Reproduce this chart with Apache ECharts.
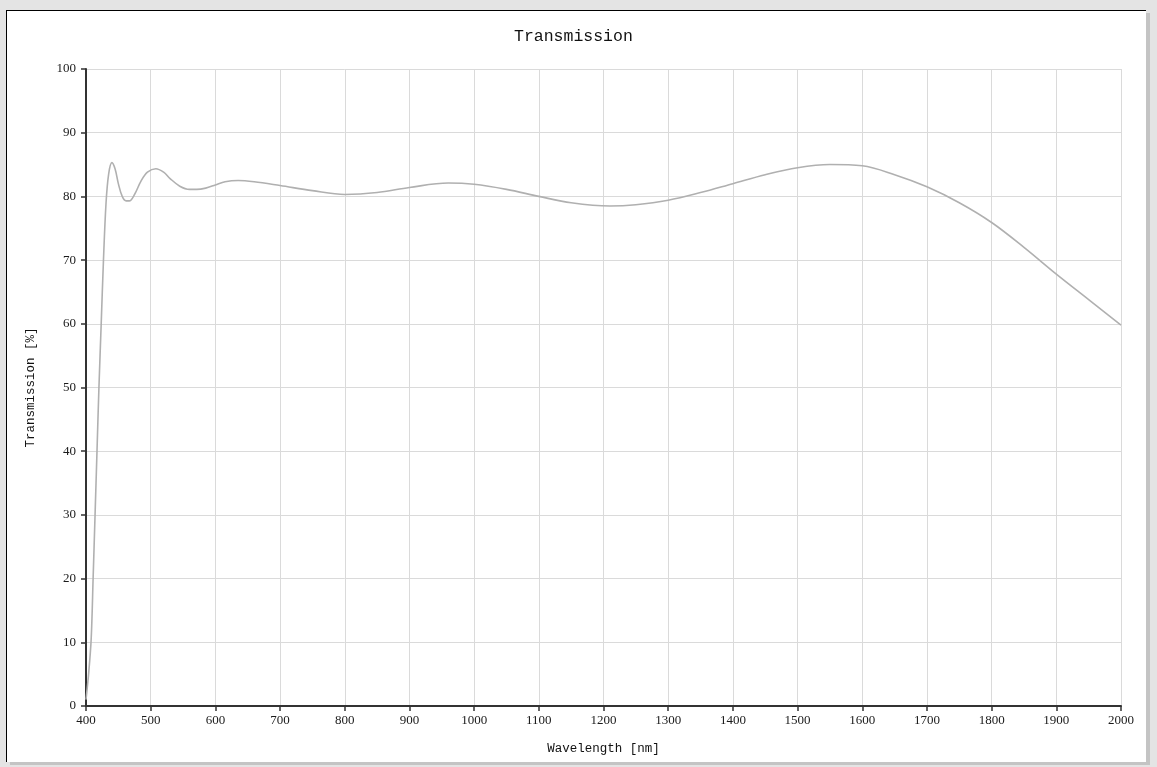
<!DOCTYPE html>
<html>
<head>
<meta charset="utf-8">
<title>Transmission</title>
<script src="https://cdn.jsdelivr.net/npm/echarts@6/dist/echarts.min.js"></script>
<style>
  html, body { margin: 0; padding: 0; background: #e4e4e4; }
  #frame {
    position: absolute; left: 6px; top: 10px; width: 1139px; height: 751px;
    background: #fff; border-top: 1px solid #000; border-left: 1px solid #000;
    box-shadow: 4px 3px 0 #c4c4c4;
  }
  #main { position: absolute; left: 0; top: 0; width: 1157px; height: 767px; }
</style>
</head>
<body>
<div id="frame"></div>
<div id="main"></div>
<script>
// wavelength [nm]
var wavelengths = [400, 404, 408, 411, 414, 417, 420, 423.5, 427, 431, 435, 440, 445, 450, 456, 462, 467,
  475, 485, 495, 508, 520, 530, 545, 560, 571, 585, 600, 615, 635, 660, 700, 750, 800, 850, 900,
  960, 1000, 1050, 1100, 1150, 1210, 1250, 1300, 1350, 1400, 1450, 1500, 1550, 1600, 1650, 1700,
  1750, 1800, 1850, 1900, 1950, 2000];
// transmission [%]
var transmission = [1.0, 5, 10.5, 20, 30, 40, 50, 60, 70, 79, 83.5, 85.3, 84.3, 82, 80, 79.3, 79.3,
  80.3, 82.4, 83.8, 84.35, 83.8, 82.8, 81.6, 81.1, 81.1, 81.3, 81.8, 82.3, 82.5, 82.3, 81.7, 80.9,
  80.3, 80.6, 81.4, 82.1, 81.9, 81.1, 80.0, 79.0, 78.5, 78.7, 79.4, 80.6, 82.0, 83.4, 84.5, 85.0, 84.8,
  83.4, 81.5, 79.0, 75.9, 72.0, 67.8, 63.8, 59.8];

var xTicks = { min: 400, max: 2000, step: 100 };
var yTicks = { min: 0, max: 100, step: 10 };

var points = wavelengths.map(function (w, i) { return [w, transmission[i]]; });

var chart = echarts.init(document.getElementById('main'));
var axisColor = '#333';
var labelFont = { color: '#1a1a1a', fontFamily: 'Liberation Serif', fontSize: 13 };

chart.setOption({
  animation: false,
  title: {
    text: 'Transmission',
    left: 509, top: 23,
    textStyle: { fontFamily: 'Liberation Mono', fontSize: 16.5, fontWeight: 'normal', color: '#111' }
  },
  grid: { left: 86, right: 36, top: 69, bottom: 61 },
  xAxis: {
    type: 'value',
    min: xTicks.min, max: xTicks.max, interval: xTicks.step,
    name: 'Wavelength [nm]',
    nameLocation: 'middle', nameGap: 36,
    nameTextStyle: { fontFamily: 'Liberation Mono', fontSize: 12.5, color: '#111' },
    axisLine: { lineStyle: { color: axisColor, width: 2 } },
    axisTick: { show: true, length: 5, lineStyle: { color: axisColor, width: 1.5 } },
    axisLabel: Object.assign({
      margin: 8, showMinLabel: true, showMaxLabel: true,
      formatter: function (v) { return String(v); }
    }, labelFont),
    splitLine: { show: true, lineStyle: { color: '#dadada', width: 1 } }
  },
  yAxis: {
    type: 'value',
    min: yTicks.min, max: yTicks.max, interval: yTicks.step,
    name: 'Transmission [%]',
    nameLocation: 'middle', nameGap: 49, nameRotate: 90,
    nameTextStyle: { fontFamily: 'Liberation Mono', fontSize: 12.5, color: '#111' },
    axisLine: { show: true, lineStyle: { color: axisColor, width: 2 } },
    axisTick: { show: true, length: 5, lineStyle: { color: axisColor, width: 1.5 } },
    axisLabel: Object.assign({ margin: 10 }, labelFont),
    splitLine: { show: true, lineStyle: { color: '#dadada', width: 1 } }
  },
  series: [{
    type: 'line',
    data: points,
    showSymbol: false,
    smooth: 0.35,
    lineStyle: { color: '#b0b0b0', width: 1.6 }
  }]
});
</script>
</body>
</html>
